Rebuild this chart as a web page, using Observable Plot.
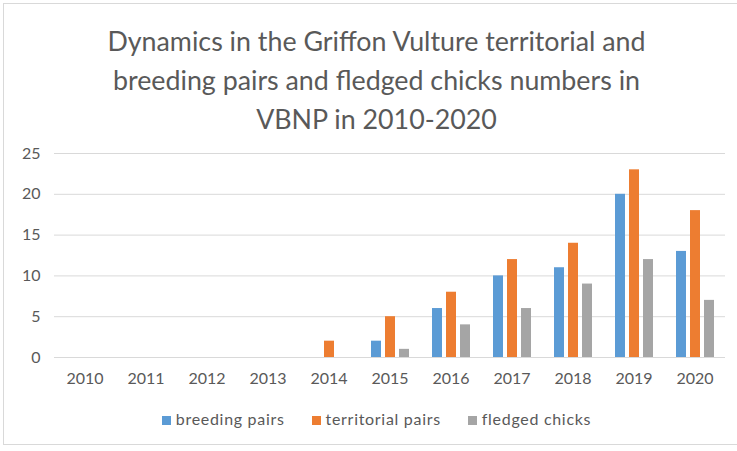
<!DOCTYPE html>
<html>
<head>
<meta charset="utf-8">
<script src="https://cdn.jsdelivr.net/npm/d3@7"></script>
<script src="https://cdn.jsdelivr.net/npm/@observablehq/plot@0.6"></script>
<style>
  body { margin: 0; background: #fff; }
  #wrap { position: relative; width: 737px; height: 451px; overflow: hidden; font-family: Lato, sans-serif; color: #595959; }
  #frame { position: absolute; left: 3px; top: 3px; width: 745px; height: 442px; border: 1px solid #d9d9d9; box-sizing: border-box; }
  #title { position: absolute; left: 8px; width: 737px; top: 22px; text-align: center; font-size: 26.8px; line-height: 39px; color: #595959; }
  #chart { position: absolute; left: 0; top: 140px; }
  #legend { position: absolute; top: 409px; left: 0; width: 737px; font-size: 16px; line-height: 20px; letter-spacing: 0.7px; }
  .sw { display: inline-block; width: 9px; height: 9px; margin-right: 5px; vertical-align: 0px; }
</style>
</head>
<body>
<div id="wrap">
  <div id="frame"></div>
  <div id="title">Dynamics in the Griffon Vulture territorial and<br>breeding pairs and fledged chicks numbers in<br>VBNP in 2010-2020</div>
  <div id="chart"></div>
  <div id="legend"></div>
</div>
<script>
const years = ["2010","2011","2012","2013","2014","2015","2016","2017","2018","2019","2020"];
const seriesNames = ["breeding pairs", "territorial pairs", "fledged chicks"];
const breeding = [0,0,0,0,0,2,6,10,11,20,13];
const territorial = [0,0,0,0,2,5,8,12,14,23,18];
const fledged = [0,0,0,0,0,1,4,6,9,12,7];
const yTicks = [0,5,10,15,20,25];
const colors = ["#5B9BD5", "#ED7D31", "#A5A5A5"];

const seriesValues = [breeding, territorial, fledged];
const data = [];
years.forEach((yr, i) => {
  seriesNames.forEach((s, j) => data.push({year: yr, series: s, value: seriesValues[j][i]}));
});

const chart = Plot.plot({
  width: 737,
  height: 252,
  marginLeft: 53,
  marginRight: 12,
  marginTop: 13,
  marginBottom: 35,
  style: {fontFamily: "Lato, sans-serif", fontSize: "16px", color: "#595959", background: "transparent"},
  fx: {domain: years, padding: 0, label: null, axis: "bottom", tickSize: 0, tickPadding: 15},
  x: {domain: seriesNames, axis: null, paddingInner: 0.286, paddingOuter: 0.82},
  y: {domain: [0, 25], ticks: yTicks, tickSize: 0, tickPadding: 14, label: null},
  color: {domain: seriesNames, range: colors},
  marks: [
    Plot.ruleY(yTicks, {stroke: "#d9d9d9", strokeWidth: 1}),
    Plot.barY(data, {fx: "year", x: "series", y: "value", fill: "series"})
  ]
});
document.getElementById("chart").appendChild(chart);

const legend = document.getElementById("legend");
const row = document.createElement("div");
row.style.cssText = "display:flex;justify-content:center;gap:27px;padding-left:16px";
seriesNames.forEach((s, j) => {
  const it = document.createElement("span");
  it.style.whiteSpace = "nowrap";
  const sw = document.createElement("span");
  sw.className = "sw";
  sw.style.background = colors[j];
  it.appendChild(sw);
  it.appendChild(document.createTextNode(s));
  row.appendChild(it);
});
legend.appendChild(row);
</script>
</body>
</html>
